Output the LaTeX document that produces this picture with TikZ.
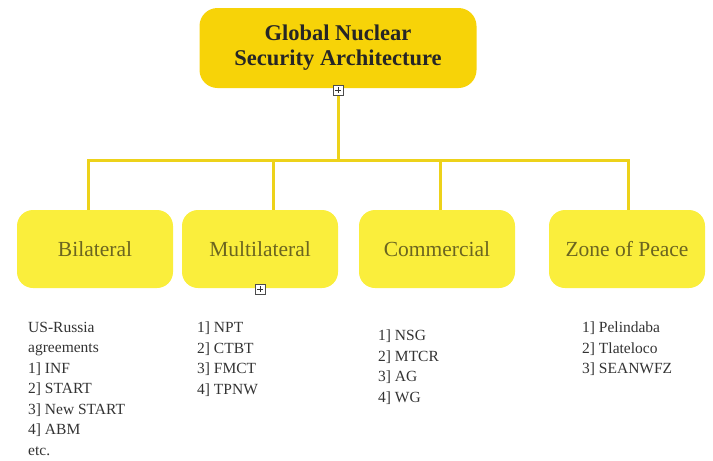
\documentclass[tikz,border=0pt]{standalone}
\usepackage{fontspec}
\setmainfont{Liberation Serif}
\usetikzlibrary{calc}
\definecolor{gold}{HTML}{F7D308}
\definecolor{lemon}{HTML}{FAEE3C}
\definecolor{olive}{HTML}{6B6520}
\definecolor{barline}{HTML}{EDD21A}

\begin{document}
\begin{tikzpicture}[x=1pt,y=-1pt,
 head/.style ={rectangle, fill=gold, rounded corners=18pt, minimum width=277pt, minimum height=80pt, align=center, text=black!85, font=\fontsize{22.5}{25}\selectfont\bfseries},
 block/.style ={rectangle, fill=lemon, rounded corners=16pt, minimum width=156pt, minimum height=78pt, align=center, text=olive, font=\fontsize{21.5}{24}\selectfont},
 list/.style ={anchor=north west, align=left, inner sep=0pt, text=black!80, font=\fontsize{15.5}{20.5}\selectfont},
 link/.style ={line width=3pt, draw=barline},
 expand/.style ={rectangle, draw=black!70, fill=white, line width=0.8pt, minimum size=10pt, inner sep=0pt,
   path picture={\draw[black!80,line width=0.8pt] ($(path picture bounding box.west)+(2pt,0)$)--($(path picture bounding box.east)-(2pt,0)$) ($(path picture bounding box.north)+(0,-2pt)$)--($(path picture bounding box.south)-(0,-2pt)$);}}]
\useasboundingbox (0,0) rectangle (713,461);
\coordinate (bar) at (338,160);
\draw[link] (338,88) -- (bar);
\draw (338,48) node[head] (T) {Global Nuclear\\Security Architecture};
\draw (95,249) node[block] (B) {Bilateral};
\draw (260,249) node[block] (M) {Multilateral};
\draw (437,249) node[block] (C) {Commercial};
\draw (627,249) node[block] (Z) {Zone of Peace};
\draw[link] (bar) -| ($(B.north)+(-7,0)$);
\draw[link] (bar) -| ($(M.north)+(13,0)$);
\draw[link] (bar) -| ($(C.north)+(3,0)$);
\draw[link] (bar) -| ($(Z.north)+(1,0)$);
\draw (338,90) node[expand] (Tplus) {};
\draw (260,289) node[expand] (Mplus) {};
% lists
\draw (28,322) node[list] (Blist) {US-Russia\\agreements\\1] INF\\2] START\\3] New START\\4] ABM\\etc.};
\draw (197,322) node[list] (Mlist) {1] NPT\\2] CTBT\\3] FMCT\\4] TPNW};
\draw (378,330) node[list] (Clist) {1] NSG\\2] MTCR\\3] AG\\4] WG};
\draw (582,322) node[list] (Zlist) {1] Pelindaba\\2] Tlateloco\\3] SEANWFZ};
\end{tikzpicture}
\end{document}
